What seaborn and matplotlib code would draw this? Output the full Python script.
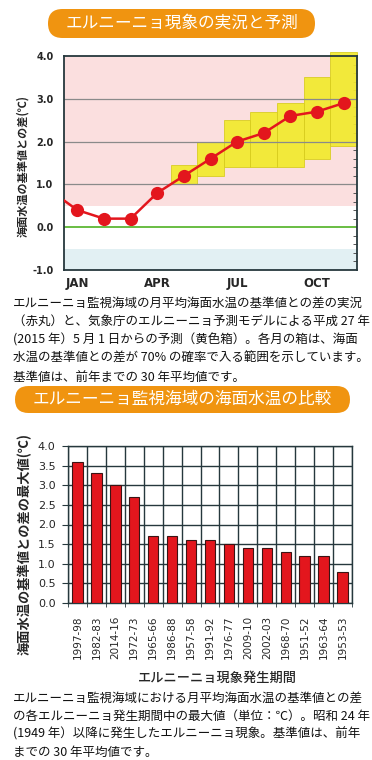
import numpy as np
import pandas as pd
import matplotlib
matplotlib.use("Agg")
import matplotlib.pyplot as plt
import seaborn as sns
from matplotlib.patches import FancyBboxPatch
from matplotlib.ticker import MultipleLocator

# --- data: monthly anomaly, observed + forecast (previous DEC only feeds the line edge)
months = ["DEC", "JAN", "FEB", "MAR", "APR", "MAY", "JUN", "JUL", "AUG", "SEP", "OCT", "NOV"]
anomaly = [0.85, 0.4, 0.2, 0.2, 0.8, 1.2, 1.6, 2.0, 2.2, 2.6, 2.7, 2.9]
box_months = ["MAY", "JUN", "JUL", "AUG", "SEP", "OCT", "NOV"]
box_low = [1.0, 1.2, 1.4, 1.4, 1.4, 1.6, 1.9]
box_high = [1.45, 2.0, 2.5, 2.7, 2.9, 3.5, 4.1]
label_months = ["JAN", "APR", "JUL", "OCT"]

# --- data: max anomaly per El Nino event
periods = ["1997-98", "1982-83", "2014-16", "1972-73", "1965-66", "1986-88", "1957-58",
           "1991-92", "1976-77", "2009-10", "2002-03", "1968-70", "1951-52", "1963-64", "1953-53"]
max_anomaly = [3.6, 3.3, 3.0, 2.7, 1.7, 1.7, 1.6, 1.6, 1.5, 1.4, 1.4, 1.3, 1.2, 1.2, 0.8]

caption1 = [
    "エルニーニョ監視海域の月平均海面水温の基準値との差の実況",
    "（赤丸）と、気象庁のエルニーニョ予測モデルによる平成 27 年",
    "(2015 年）5 月 1 日からの予測（黄色箱）。各月の箱は、海面",
    "水温の基準値との差が 70% の確率で入る範囲を示しています。",
    "基準値は、前年までの 30 年平均値です。",
]
caption2 = [
    "エルニーニョ監視海域における月平均海面水温の基準値との差",
    "の各エルニーニョ発生期間中の最大値（単位：℃）。昭和 24 年",
    "(1949 年）以降に発生したエルニーニョ現象。基準値は、前年",
    "までの 30 年平均値です。",
]

ORANGE = "#f09410"
PINK = "#fbdfdf"
BLUE = "#e2f0f3"
YELLOW = "#f2ea2c"
RED = "#e3161d"
DARK = "#26383d"

sns.set_style("white")
plt.rcParams["font.family"] = ["Noto Sans CJK JP", "DejaVu Sans"]

W, H = 372, 760
fig = plt.figure(figsize=(W / 100, H / 100), dpi=100)


def frac(l, t, r, b):
    return [l / W, 1 - b / H, (r - l) / W, (b - t) / H]


def banner(l, t, r, b, text):
    box = FancyBboxPatch((l / 100, (H - b) / 100), (r - l) / 100, (b - t) / 100,
                         boxstyle=f"round,pad=0,rounding_size={(b - t) / 200}",
                         transform=fig.dpi_scale_trans, fc=ORANGE, ec="none")
    fig.add_artist(box)
    fig.text((l + r) / 2 / W, 1 - (t + b) / 2 / H, text, ha="center", va="center",
             color="white", fontsize=12)


def caption(lines, y0, step):
    for i, line in enumerate(lines):
        fig.text(13 / W, 1 - (y0 + i * step) / H, line, ha="left", va="center",
                 fontsize=9, color="#111111")


# ---------------- top chart ----------------
banner(48, 9, 315, 38, "エルニーニョ現象の実況と予測")
ax1 = fig.add_axes(frac(64, 56, 357, 270))
ax1.axhspan(0.5, 4.0, color=PINK, lw=0, zorder=0)
ax1.axhspan(-1.0, -0.5, color=BLUE, lw=0, zorder=0)

box_x = [months.index(m) - 1 for m in box_months]
ax1.bar(box_x, np.array(box_high) - np.array(box_low), bottom=box_low, width=1,
        color=YELLOW, edgecolor="#d6cb1c", linewidth=0.6, alpha=0.92, zorder=1, clip_on=False)
for y in [1, 2, 3]:
    ax1.axhline(y, color="#8a8a8a", lw=0.9, zorder=2)
ax1.axhline(0, color="#5db834", lw=1.3, zorder=2)

df1 = pd.DataFrame({"x": np.arange(len(months)) - 1, "v": anomaly})
sns.lineplot(data=df1, x="x", y="v", ax=ax1, color=RED, lw=1.8, marker="o",
             markersize=9.5, markeredgewidth=0, markeredgecolor=RED, zorder=4)

ax1.set_xlim(-0.5, 10.5)
ax1.set_ylim(-1, 4)
ax1.set_xlabel("")
ax1.set_ylabel("")
ax1.set_xticks(np.arange(-0.5, 11, 1), labels=[""] * 12)
ax1.set_xticks([months.index(m) - 1 for m in label_months], labels=label_months, minor=True)
ax1.tick_params(axis="x", which="major", direction="in", length=4, width=0.8, color="#555555")
ax1.tick_params(axis="x", which="minor", length=0, pad=5, labelsize=8.5)
ax1.set_yticks(range(-1, 5), labels=[f"{v:.1f}" for v in range(-1, 5)])
ax1.yaxis.set_minor_locator(MultipleLocator(0.2))
ax1.tick_params(axis="y", which="major", left=False, right=False, pad=4, labelsize=7)
ax1.tick_params(axis="y", which="minor", left=False, right=True, direction="in",
                length=3, width=0.7, color="#555555")
for lbl in ax1.get_xticklabels(minor=True) + ax1.get_yticklabels():
    lbl.set_fontweight("bold")
    lbl.set_family("DejaVu Sans")
for s in ax1.spines.values():
    s.set_color(DARK)
    s.set_linewidth(1.3)
    s.set_zorder(3)
fig.text(23 / W, 1 - 166 / H, "海面水温の基準値との差(℃)", rotation=90, ha="center",
         va="center", fontsize=8, fontweight="bold")

caption(caption1, 303, 18.5)

# ---------------- bottom chart ----------------
banner(15, 386, 350, 413, "エルニーニョ監視海域の海面水温の比較")
ax2 = fig.add_axes(frac(68, 446, 352, 603))
df2 = pd.DataFrame({"period": periods, "value": max_anomaly})
sns.barplot(data=df2, x="period", y="value", ax=ax2, color=RED, saturation=1,
            width=0.55, edgecolor="#3b1414", linewidth=0.8, zorder=3)
ax2.set_axisbelow(True)
ax2.set_xlim(-0.5, len(periods) - 0.5)
ax2.set_ylim(0, 4)
ax2.set_xlabel("")
ax2.set_ylabel("")
ax2.set_yticks(np.arange(0, 4.01, 0.5), labels=[f"{v:.1f}" for v in np.arange(0, 4.01, 0.5)])
ax2.set_xticks(np.arange(-0.5, len(periods), 1), minor=True)
ax2.grid(axis="y", which="major", color=DARK, lw=1)
ax2.grid(axis="x", which="minor", color=DARK, lw=1)
ax2.tick_params(axis="x", which="major", length=0, labelrotation=90, pad=9, labelsize=7.5)
ax2.tick_params(axis="x", which="minor", bottom=True, direction="out", length=3, color=DARK)
ax2.tick_params(axis="y", which="major", left=True, direction="out", length=4, color=DARK,
                pad=5, labelsize=8)
for lbl in ax2.get_xticklabels() + ax2.get_yticklabels():
    lbl.set_family("DejaVu Sans")
for s in ax2.spines.values():
    s.set_color(DARK)
    s.set_linewidth(1)
fig.text(25 / W, 1 - 544 / H, "海面水温の基準値との差の最大値(℃)", rotation=90, ha="center",
         va="center", fontsize=9.5, fontweight="bold")
fig.text(217 / W, 1 - 678 / H, "エルニーニョ現象発生期間", ha="center", va="center",
         fontsize=9.5, fontweight="medium")

caption(caption2, 698, 18)

fig.savefig("out.png", dpi=100)
